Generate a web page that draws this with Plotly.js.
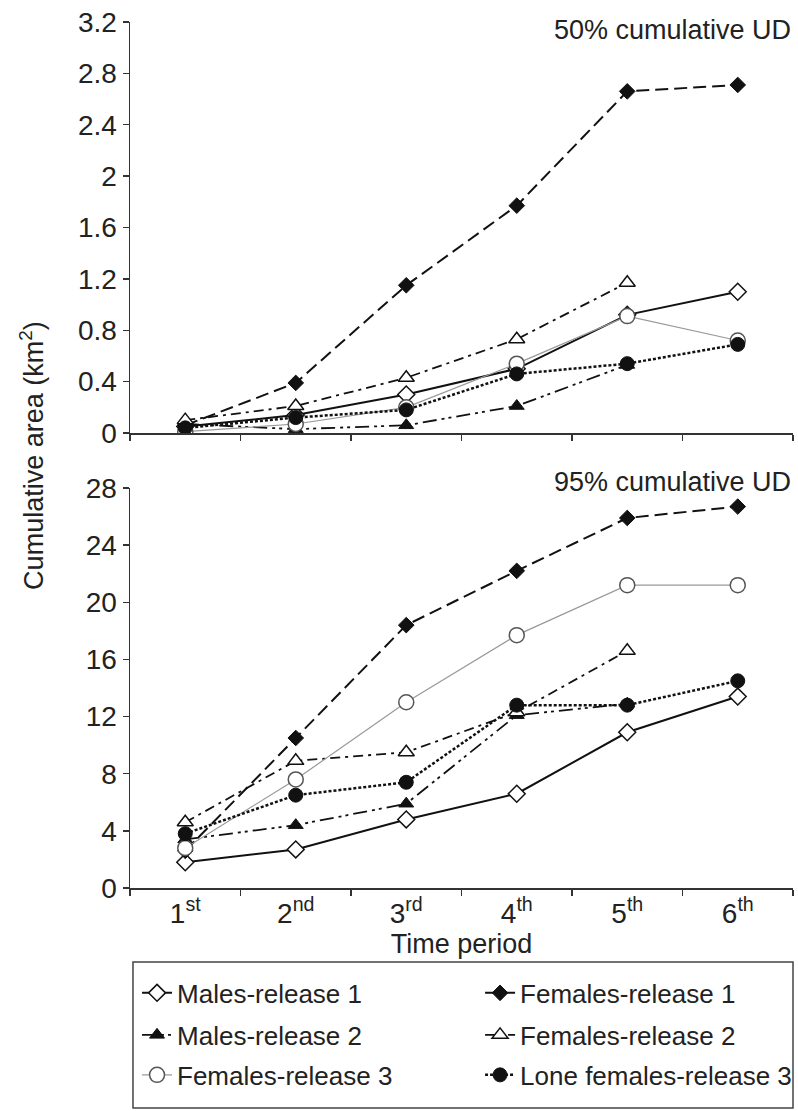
<!DOCTYPE html>
<html>
<head>
<meta charset="utf-8">
<script src="https://cdn.plot.ly/plotly-3.0.1.min.js"></script>
<style>html,body{margin:0;padding:0;background:#fff;}#chart{width:798px;height:1111px;}</style>
</head>
<body>
<div id="chart"></div>
<script>
// Categories and tick labels
const categories = ['1st', '2nd', '3rd', '4th', '5th', '6th'];
const tickLabels = ['1<sup>st</sup>', '2<sup>nd</sup>', '3<sup>rd</sup>', '4<sup>th</sup>', '5<sup>th</sup>', '6<sup>th</sup>'];

const seriesNames = ['Males-release 1', 'Females-release 1', 'Males-release 2', 'Females-release 2', 'Females-release 3', 'Lone females-release 3'];

// 50% cumulative UD (km2)
const males1_50 = [0.05, 0.14, 0.30, 0.50, 0.92, 1.10];
const females1_50 = [0.06, 0.39, 1.15, 1.77, 2.66, 2.71];
const males2_50 = [0.07, 0.03, 0.06, 0.21, 0.53, null];
const females2_50 = [0.10, 0.21, 0.43, 0.73, 1.17, null];
const females3_50 = [0.01, 0.07, 0.20, 0.54, 0.91, 0.72];
const lone3_50 = [0.04, 0.12, 0.18, 0.46, 0.54, 0.69];

// 95% cumulative UD (km2)
const males1_95 = [1.8, 2.7, 4.8, 6.6, 10.9, 13.4];
const females1_95 = [2.6, 10.5, 18.4, 22.2, 25.9, 26.7];
const males2_95 = [3.4, 4.4, 5.9, 12.1, 12.9, null];
const females2_95 = [4.6, 8.9, 9.5, 12.3, 16.6, null];
const females3_95 = [2.8, 7.6, 13.0, 17.7, 21.2, 21.2];
const lone3_95 = [3.8, 6.5, 7.4, 12.8, 12.8, 14.5];

const styles = [
  {line: {color: '#111', width: 2, dash: 'solid'}, marker: {symbol: 'diamond', size: 13, color: '#fff', line: {color: '#111', width: 1.5}}},
  {line: {color: '#111', width: 2, dash: '13px,6px'}, marker: {symbol: 'diamond', size: 12, color: '#111', line: {color: '#111', width: 1}}},
  {line: {color: '#111', width: 1.8, dash: '14px,5px,3px,4px,3px,5px'}, marker: {symbol: 'triangle-up', size: 13, color: '#111', line: {color: '#111', width: 1}}},
  {line: {color: '#111', width: 1.8, dash: '10px,5px,3px,5px'}, marker: {symbol: 'triangle-up', size: 14, color: '#fff', line: {color: '#111', width: 1.5}}},
  {line: {color: '#999', width: 1.2, dash: 'solid'}, marker: {symbol: 'circle', size: 15, color: '#fff', line: {color: '#555', width: 1.5}}},
  {line: {color: '#111', width: 2.5, dash: '3px,2px'}, marker: {symbol: 'circle', size: 14, color: '#111', line: {color: '#111', width: 1}}}
];

const data50 = [males1_50, females1_50, males2_50, females2_50, females3_50, lone3_50];
const data95 = [males1_95, females1_95, males2_95, females2_95, females3_95, lone3_95];
const legendIds = ['legend', 'legend2', 'legend3', 'legend4', 'legend5', 'legend6'];

const traces = [];
data50.forEach((vals, i) => {
  traces.push({x: categories, y: vals, type: 'scatter', mode: 'lines+markers', name: seriesNames[i],
    xaxis: 'x2', yaxis: 'y2', showlegend: false, connectgaps: false,
    line: styles[i].line, marker: styles[i].marker});
});
data95.forEach((vals, i) => {
  traces.push({x: categories, y: vals, type: 'scatter', mode: 'lines+markers', name: seriesNames[i],
    xaxis: 'x', yaxis: 'y', showlegend: true, legend: legendIds[i], connectgaps: false,
    line: styles[i].line, marker: styles[i].marker});
});

const FF = 'Liberation Sans, Arial, sans-serif';
const font = {family: FF, size: 28, color: '#222'};
const axisCommon = {showline: true, linecolor: '#333', linewidth: 1.5, ticks: 'outside', ticklen: 6, tickcolor: '#333', tickwidth: 1.3,
  showgrid: false, zeroline: false, tickfont: {family: FF, size: 28, color: '#222'}};

// legend placement: two columns, three rows
const colX = [0.0106, 0.528];
const rowY = [-0.1212, -0.1697, -0.2159];
const legendBase = {orientation: 'v', xanchor: 'left', yanchor: 'middle', borderwidth: 0, bgcolor: 'rgba(0,0,0,0)',
  itemwidth: 30, font: {family: FF, size: 26, color: '#222'}};

const layout = {
  width: 798, height: 1111,
  margin: {l: 130, r: 5, t: 22, b: 223, autoexpand: false},
  paper_bgcolor: '#fff', plot_bgcolor: '#fff',
  font: font,
  showlegend: true,
  xaxis: Object.assign({}, axisCommon, {type: 'category', categoryorder: 'array', categoryarray: categories,
    tickvals: categories, ticktext: tickLabels, tickson: 'boundaries', range: [-0.5, 5.5], anchor: 'y',
    title: {text: 'Time period', font: {family: FF, size: 27, color: '#222'}, standoff: 0}}),
  yaxis: Object.assign({}, axisCommon, {domain: [0, 0.4619], range: [0, 28], tickvals: [0, 4, 8, 12, 16, 20, 24, 28], anchor: 'x'}),
  xaxis2: Object.assign({}, axisCommon, {type: 'category', categoryorder: 'array', categoryarray: categories,
    tickvals: categories, ticktext: tickLabels, showticklabels: false, tickson: 'boundaries', range: [-0.5, 5.5], anchor: 'y2'}),
  yaxis2: Object.assign({}, axisCommon, {domain: [0.5254, 1], range: [0, 3.2], tickvals: [0, 0.4, 0.8, 1.2, 1.6, 2, 2.4, 2.8, 3.2],
    ticktext: ['0', '0.4', '0.8', '1.2', '1.6', '2', '2.4', '2.8', '3.2'], anchor: 'x2'}),
  shapes: [
    {type: 'rect', xref: 'paper', yref: 'paper', x0: 0.0045, x1: 1.0, y0: -0.254, y1: -0.0855, line: {color: '#444', width: 1.5}, fillcolor: 'rgba(0,0,0,0)'}
  ],
  annotations: [
    {text: '50% cumulative UD', xref: 'paper', yref: 'paper', x: 1, y: 0.9908, xanchor: 'right', yanchor: 'middle', showarrow: false, font: {family: FF, size: 27, color: '#222'}},
    {text: '95% cumulative UD', xref: 'paper', yref: 'paper', x: 1, y: 0.4688, xanchor: 'right', yanchor: 'middle', showarrow: false, font: {family: FF, size: 27, color: '#222'}},
    {text: 'Cumulative area (km<sup>2</sup>)', xref: 'paper', yref: 'paper', x: -0.148, y: 0.5, xanchor: 'center', yanchor: 'middle', textangle: -90, showarrow: false, font: {family: FF, size: 27, color: '#222'}}
  ]
};
legendIds.forEach((id, i) => {
  layout[id] = Object.assign({}, legendBase, {x: colX[i % 2], y: rowY[Math.floor(i / 2)]});
});

Plotly.newPlot('chart', traces, layout, {staticPlot: true, displayModeBar: false});
</script>
</body>
</html>
